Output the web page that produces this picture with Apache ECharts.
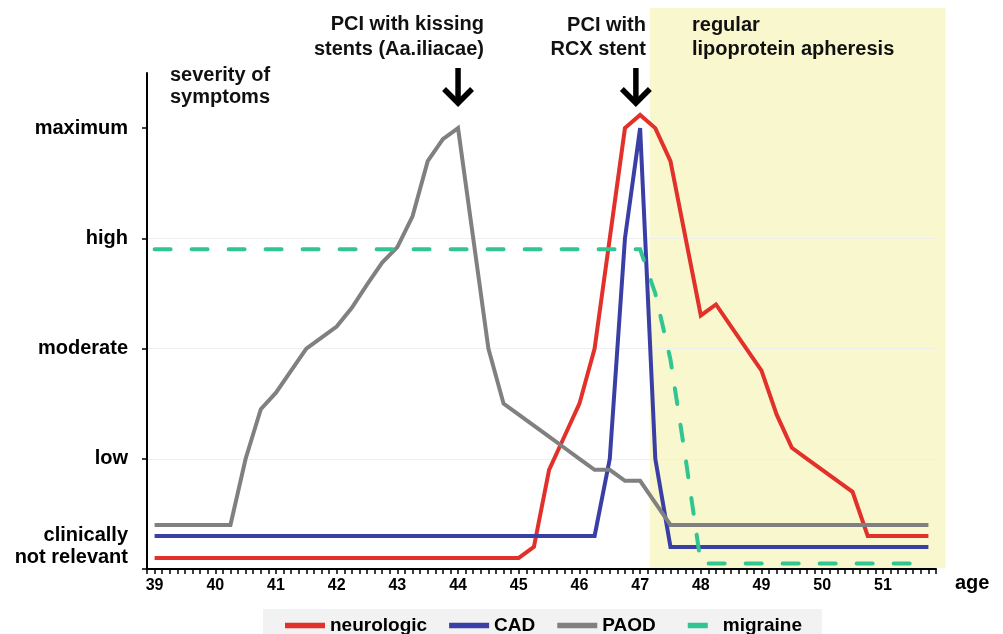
<!DOCTYPE html>
<html><head><meta charset="utf-8">
<script src="https://cdn.jsdelivr.net/npm/echarts@6/dist/echarts.min.js"></script>
<style>html,body{margin:0;padding:0;background:#fff}#c{width:1003px;height:634px}</style>
</head><body><div id="c"></div>
<script>
// ---- data ----
const ages = [39, 39.25, 39.5, 39.75, 40, 40.25, 40.5, 40.75, 41, 41.25, 41.5, 41.75, 42, 42.25, 42.5, 42.75,
  43, 43.25, 43.5, 43.75, 44, 44.25, 44.5, 44.75, 45, 45.25, 45.5, 45.75, 46, 46.25, 46.5, 46.75,
  47, 47.25, 47.5, 47.75, 48, 48.25, 48.5, 48.75, 49, 49.25, 49.5, 49.75, 50, 50.25, 50.5, 50.75,
  51, 51.25, 51.5, 51.75];
const neurologic = [0.1, 0.1, 0.1, 0.1, 0.1, 0.1, 0.1, 0.1, 0.1, 0.1, 0.1, 0.1, 0.1, 0.1, 0.1, 0.1,
  0.1, 0.1, 0.1, 0.1, 0.1, 0.1, 0.1, 0.1, 0.1, 0.2, 0.9, 1.2, 1.5, 2.0, 3.0, 4.0,
  4.12, 4.0, 3.7, 3.0, 2.3, 2.4, 2.2, 2.0, 1.8, 1.4, 1.1, 1.0, 0.9, 0.8, 0.7, 0.3,
  0.3, 0.3, 0.3, 0.3];
const cad = [0.3, 0.3, 0.3, 0.3, 0.3, 0.3, 0.3, 0.3, 0.3, 0.3, 0.3, 0.3, 0.3, 0.3, 0.3, 0.3,
  0.3, 0.3, 0.3, 0.3, 0.3, 0.3, 0.3, 0.3, 0.3, 0.3, 0.3, 0.3, 0.3, 0.3, 1.0, 3.0,
  4.0, 1.0, 0.2, 0.2, 0.2, 0.2, 0.2, 0.2, 0.2, 0.2, 0.2, 0.2, 0.2, 0.2, 0.2, 0.2,
  0.2, 0.2, 0.2, 0.2];
const paod = [0.4, 0.4, 0.4, 0.4, 0.4, 0.4, 1.0, 1.45, 1.6, 1.8, 2.0, 2.1, 2.2, 2.37, 2.58, 2.78,
  2.92, 3.2, 3.7, 3.9, 4.0, 3.0, 2.0, 1.5, 1.4, 1.3, 1.2, 1.1, 1.0, 0.9, 0.9, 0.8,
  0.8, 0.6, 0.4, 0.4, 0.4, 0.4, 0.4, 0.4, 0.4, 0.4, 0.4, 0.4, 0.4, 0.4, 0.4, 0.4,
  0.4, 0.4, 0.4, 0.4];
const migraine = [2.9, 2.9, 2.9, 2.9, 2.9, 2.9, 2.9, 2.9, 2.9, 2.9, 2.9, 2.9, 2.9, 2.9, 2.9, 2.9,
  2.9, 2.9, 2.9, 2.9, 2.9, 2.9, 2.9, 2.9, 2.9, 2.9, 2.9, 2.9, 2.9, 2.9, 2.9, 2.9,
  2.9, 2.5, 1.9, 1.0, 0.05, 0.05, 0.05, 0.05, 0.05, 0.05, 0.05, 0.05, 0.05, 0.05, 0.05, 0.05,
  0.05, 0.05, 0.05, 0.05];
const seriesNames = ['neurologic', 'CAD', 'PAOD', 'migraine'];
const severityLabels = ['clinically\nnot relevant', 'low', 'moderate', 'high', 'maximum'];
const severityValues = [0, 1, 2, 3, 4];
const ageTickLabels = [39, 40, 41, 42, 43, 44, 45, 46, 47, 48, 49, 50, 51];
const arrowAges = [44.0, 46.93];
const apheresisRange = [47.16, 52.03];
const annotationTexts = ['severity of\nsymptoms', 'PCI with kissing\nstents (Aa.iliacae)', 'PCI with\nRCX stent', 'regular\nlipoprotein apheresis'];

// ---- chart ----
const FONT = 'Arial, "Liberation Sans", Helvetica, sans-serif';
const colors = ['#e2302a', '#3a3fa5', '#808080', '#31c592'];
const chart = echarts.init(document.getElementById('c'), null, {renderer: 'canvas'});
const toPairs = arr => ages.map((a, i) => [a, arr[i]]);

function mkSeries(name, arr, color, dashed) {
  return {
    name, type: 'line', data: toPairs(arr), showSymbol: false, symbol: 'none',
    lineStyle: {color, width: 4, join: 'miter', type: dashed ? [16, 21] : 'solid', cap: dashed ? 'round' : 'butt'},
    itemStyle: {color}, emphasis: {disabled: true}
  };
}

const LINE_ICON = 'path://M0,0 L40,0 L40,5.5 L0,5.5 Z';
const DASH_ICON = 'path://M0,0 L0,0 M10,0 L30,0 L30,5.5 L10,5.5 Z M40,5.5 L40,5.5';

const option = {
  animation: false,
  backgroundColor: '#ffffff',
  textStyle: {fontFamily: FONT},
  grid: {left: 147, right: 67, top: 73, bottom: 65, containLabel: false, outerBoundsMode: 'none'},
  legend: {
    left: 263, top: 609, orient: 'horizontal', backgroundColor: '#f2f2f2',
    padding: [7, 20, 3, 22], itemGap: 22, itemWidth: 40, itemHeight: 5.5,
    textStyle: {fontSize: 19, fontWeight: 'bold', color: '#000', fontFamily: FONT},
    data: [
      {name: seriesNames[0], icon: LINE_ICON}, {name: seriesNames[1], icon: LINE_ICON},
      {name: seriesNames[2], icon: LINE_ICON}, {name: seriesNames[3], icon: DASH_ICON}
    ]
  },
  xAxis: {
    type: 'value', min: 38.875, max: 51.875, interval: 0.125,
    name: 'age', nameLocation: 'end', nameGap: 19,
    nameTextStyle: {fontSize: 20, fontWeight: 'bold', color: '#000', fontFamily: FONT, verticalAlign: 'top', padding: [4, 0, 0, 0]},
    axisLine: {show: true, lineStyle: {color: '#000', width: 2}},
    axisTick: {show: true, length: 5, lineStyle: {color: '#000', width: 1.5}},
    splitLine: {show: false},
    axisLabel: {
      margin: 9, fontSize: 16, fontWeight: 'bold', color: '#000', fontFamily: FONT,
      formatter: v => {
        const r = Math.round(v);
        return (Math.abs(v - r) < 1e-6 && ageTickLabels.indexOf(r) >= 0) ? String(r) : '';
      }
    }
  },
  yAxis: {
    type: 'value', min: 0, max: 4.5, interval: 1,
    axisLine: {show: true, lineStyle: {color: '#000', width: 2}},
    axisTick: {show: true, length: 5, lineStyle: {color: '#000', width: 1.5}, customValues: severityValues},
    splitLine: {show: true, showMaxLine: false, lineStyle: {color: '#efefef', width: 1}},
    axisLabel: {
      margin: 19, color: '#000', fontFamily: FONT, customValues: severityValues,
      formatter: v => {
        const idx = severityValues.indexOf(Math.round(v));
        if (Math.abs(v - Math.round(v)) > 1e-6 || idx < 0) return '';
        const parts = severityLabels[idx].split('\n');
        if (parts.length > 1) return parts.map(p => '{b|' + p + '}').join('\n') + '\n{s| }';
        return '{b|' + parts[0] + '}';
      },
      rich: {
        b: {fontSize: 20, fontWeight: 'bold', color: '#000', fontFamily: FONT, lineHeight: 22},
        s: {fontSize: 4, lineHeight: 46}
      }
    }
  },
  series: [
    mkSeries(seriesNames[0], neurologic, colors[0], false),
    mkSeries(seriesNames[1], cad, colors[1], false),
    mkSeries(seriesNames[2], paod, colors[2], false),
    mkSeries(seriesNames[3], migraine, colors[3], true)
  ]
};
chart.setOption(option);

// ---- annotations (positions derived from the axes) ----
const xp = a => chart.convertToPixel({xAxisIndex: 0}, a);
const yp = v => chart.convertToPixel({yAxisIndex: 0}, v);
const shadeX0 = xp(apheresisRange[0]), shadeX1 = xp(apheresisRange[1]);
const base = yp(0);
const txtStyle = (text, x, y, align, lh) => ({
  type: 'text', z: 50,
  style: {text, x, y, align, verticalAlign: 'top', lineHeight: lh, fill: '#111',
    font: 'bold 20px ' + FONT}
});
const arrow = a => {
  const x = xp(a);
  return [
    {type: 'line', z: 50, shape: {x1: x, y1: 68, x2: x, y2: 101}, style: {stroke: '#000', lineWidth: 5.5}},
    {type: 'polyline', z: 50, shape: {points: [[x - 14, 89], [x, 103], [x + 14, 89]]},
      style: {stroke: '#000', lineWidth: 5.5, fill: null, lineJoin: 'miter'}}
  ];
};
chart.setOption({
  graphic: [
    {type: 'rect', z: -10, silent: true,
      shape: {x: shadeX0, y: 8, width: shadeX1 - shadeX0, height: base - 9},
      style: {fill: '#f9f7cd'}},
    txtStyle(annotationTexts[0], 170, 64, 'left', 22),
    txtStyle(annotationTexts[1], 484, 12, 'right', 25),
    txtStyle(annotationTexts[2], 646, 13, 'right', 24),
    txtStyle(annotationTexts[3], 692, 13, 'left', 24)
  ].concat(arrow(arrowAges[0]), arrow(arrowAges[1]))
});
</script>
</body></html>
